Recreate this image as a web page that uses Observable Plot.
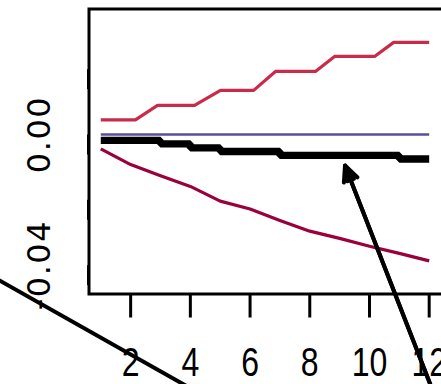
<!DOCTYPE html>
<html><head><meta charset="utf-8">
<script src="https://cdn.jsdelivr.net/npm/d3@7"></script>
<script src="https://cdn.jsdelivr.net/npm/@observablehq/plot@0.6"></script>
<style>body{margin:0;background:#fff;overflow:hidden}</style>
</head><body>
<script>
// horizon (months)
const months = [1, 2, 3, 4, 5, 6, 7, 8, 9, 10, 11, 12];
// point response (thick black step line)
const response = [-0.0018, -0.0018, -0.0029, -0.0041, -0.0052, -0.0052, -0.0064, -0.0064, -0.0064, -0.0064, -0.0075, -0.0075];
// lower confidence band
const lowerBand = [-0.0044, -0.0092, -0.0126, -0.0159, -0.0204, -0.0228, -0.0263, -0.0296, -0.0318, -0.0342, -0.0364, -0.0387];
// upper confidence band (breakpoints as read)
const upperX = [1, 2.16, 2.90, 4.14, 5.01, 6.12, 6.85, 8.19, 8.83, 10.17, 10.81, 12];
const upperY = [0.0045, 0.0045, 0.0089, 0.0089, 0.0135, 0.0135, 0.0193, 0.0193, 0.0239, 0.0239, 0.0282, 0.0282];
// zero reference
const zeroLine = [0, 0];
const zeroX = [1, 12];
// ticks
const xTicks = [2, 4, 6, 8, 10, 12];
const yTicks = [0.02, 0, -0.02, -0.04];
const yTickLabels = ["", "0.00", "", "-0.04"];
// annotation arrows (data units)
const annoLineStart = [-4.37, -0.0345];
const annoLineEnd = [6.35, -0.0898];
const annoArrowStart = [12.51, -0.0876];
const annoArrowEnd = [9.18, -0.0095];

const upper = upperX.map((x, i) => ({x, y: upperY[i]}));
const lower = months.map((x, i) => ({x, y: lowerBand[i]}));
const resp = months.map((x, i) => ({x, y: response[i]}));
const zero = zeroX.map((x, i) => ({x, y: zeroLine[i]}));
const links = [{x1: annoLineStart[0], y1: annoLineStart[1], x2: annoLineEnd[0], y2: annoLineEnd[1]}];
const arrows = [{x1: annoArrowStart[0], y1: annoArrowStart[1], x2: annoArrowEnd[0], y2: annoArrowEnd[1]}];

const plot = Plot.plot({
  width: 441, height: 384,
  marginLeft: 88.5, marginRight: -5, marginTop: 8.5, marginBottom: 90.5,
  x: {domain: [0.605, 12.58]},
  y: {domain: [-0.04884, 0.03843]},
  style: {background: "white", color: "black", overflow: "hidden"},
  marks: [
    Plot.axisX({ticks: xTicks, tickSize: 24, tickPadding: 30, strokeWidth: 3, fontSize: 40,
      fontFamily: "'Liberation Sans', Arial, sans-serif", label: null}),
    Plot.axisY({ticks: yTicks, tickSize: 20, tickPadding: 19, strokeWidth: 3, rotate: -90,
      textAnchor: "middle", lineAnchor: "bottom", fontSize: 32, fontFamily: "'DejaVu Sans'",
      tickFormat: d => yTickLabels[yTicks.indexOf(d)], label: null}),
    Plot.line(zero, {x: "x", y: "y", stroke: "#5a4f9e", strokeWidth: 2.5, strokeLinecap: "butt"}),
    Plot.line(upper, {x: "x", y: "y", stroke: "#c82c4a", strokeWidth: 3.2, strokeLinecap: "butt"}),
    Plot.line(lower, {x: "x", y: "y", stroke: "#9a003c", strokeWidth: 3.2, strokeLinecap: "butt"}),
    Plot.line(resp, {x: "x", y: "y", curve: "step-after", stroke: "black", strokeWidth: 7.3, strokeLinecap: "butt", strokeLinejoin: "miter"}),
    Plot.frame({stroke: "black", strokeWidth: 3}),
    Plot.link(links, {x1: "x1", y1: "y1", x2: "x2", y2: "y2", stroke: "black", strokeWidth: 4}),
    Plot.arrow(arrows, {x1: "x1", y1: "y1", x2: "x2", y2: "y2", stroke: "black", strokeWidth: 4, headLength: 6.4, headAngle: 50}),
    Plot.arrow(arrows, {x1: "x1", y1: "y1", x2: "x2", y2: "y2", stroke: "black", strokeWidth: 4, headLength: 6.0, headAngle: 25})
  ]
});
d3.select(plot).selectAll('g[aria-label="y-axis tick label"] text').attr("letter-spacing", "1.5");
d3.select(plot).selectAll('g[aria-label="x-axis tick label"] text').each(function () {
  const t = this.getAttribute("transform") || "";
  this.setAttribute("transform", `${t} scale(0.8,1)`);
});
document.body.appendChild(plot);
</script>
</body></html>
